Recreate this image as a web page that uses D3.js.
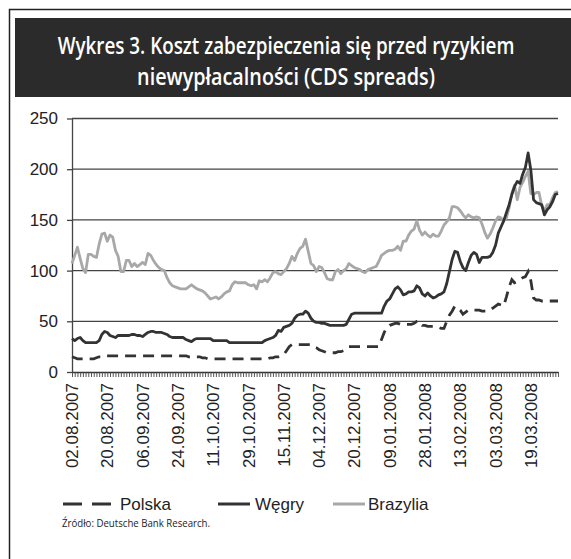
<!DOCTYPE html>
<html><head><meta charset="utf-8">
<script src="https://cdn.jsdelivr.net/npm/d3@7"></script>
<style>body{margin:0;background:#fff}svg{display:block}</style>
</head><body><div id="chart"></div>
<script>
const titleLines = ["Wykres 3. Koszt zabezpieczenia się przed ryzykiem", "niewypłacalności (CDS spreads)"];
const tickLabels = ["02.08.2007","20.08.2007","06.09.2007","24.09.2007","11.10.2007","29.10.2007","15.11.2007","04.12.2007","20.12.2007","09.01.2008","28.01.2008","13.02.2008","03.03.2008","19.03.2008"];
const labelStep = 13;
const yTicks = [0, 50, 100, 150, 200, 250];
const seriesNames = ["Polska", "Węgry", "Brazylia"];
const polska = [
15,14,13,13,13,13,13,13,13,14,
15,15,16,16,16,16,16,16,16,16,
16,16,16,16,16,16,16,16,16,16,
16,16,16,16,16,16,16,16,16,16,
16,16,16,15,15,15,15,15,14,14,
13,13,13,13,13,13,13,13,13,13,
13,13,13,13,13,13,13,13,13,13,
13,13,13,14,14,15,15,16,17,21,
25,27,27,27,27,27,27,27,27,25,
24,22,21,20,19,19,19,19,20,20,
21,23,25,25,25,25,25,25,25,25,
25,25,25,25,32,39,44,46,47,48,
48,47,47,47,47,47,48,50,50,46,
46,45,45,45,44,44,43,43,50,56,
60,65,63,61,57,59,61,61,61,61,
61,60,60,60,61,63,65,67,66,65,
74,84,91,88,89,91,93,94,99,90,
73,71,71,70,70,70,70,70,70,70];
const wegry = [
33,31,33,34,31,29,29,29,29,29,
31,37,40,39,36,35,34,36,36,36,
36,36,37,37,36,36,35,37,39,40,
40,39,39,39,38,37,35,34,34,34,
34,34,32,31,30,32,33,33,33,33,
33,33,31,31,31,31,31,31,29,29,
29,29,29,29,29,29,29,29,29,29,
29,31,32,33,34,36,41,40,44,45,
46,48,53,56,57,57,60,58,53,50,
49,49,48,48,47,46,46,46,46,46,
46,47,52,57,58,58,58,58,58,58,
58,58,58,58,58,65,70,72,77,82,
84,81,76,77,79,79,80,85,83,77,
75,78,75,73,74,76,77,79,87,99,
111,119,118,109,103,100,108,115,118,116,
108,113,113,113,114,118,125,137,143,149,
157,165,175,183,188,186,195,202,216,199,
170,167,166,165,155,160,163,168,175,176];
const brazylia = [
107,115,123,112,102,98,116,116,114,113,
126,136,137,129,135,133,120,114,99,99,
110,110,104,107,104,106,108,106,117,115,
110,106,103,101,100,93,88,85,84,83,
82,82,82,84,86,84,82,81,80,78,
75,72,73,74,72,74,77,79,80,86,
89,88,88,88,88,86,85,86,82,90,
89,91,89,93,98,99,97,96,99,102,
107,114,110,117,122,124,131,119,107,105,
99,104,103,98,92,91,91,99,101,97,
100,102,107,105,103,102,101,99,98,101,
102,103,104,109,115,117,119,120,120,121,
124,120,129,129,135,139,141,149,140,135,
138,135,133,136,134,134,139,145,148,152,
163,163,162,159,155,152,155,153,152,153,
152,146,138,132,136,142,149,153,152,149,
152,162,176,184,170,182,187,193,198,176,
175,177,177,164,159,165,165,172,177,178];

const W = 571, H = 559;
const svg = d3.select("#chart").append("svg").attr("width", W).attr("height", H)
  .style("font-family", "'Liberation Sans', Arial, sans-serif");
svg.append("rect").attr("width", W).attr("height", H).attr("fill", "#fff");

// frame
svg.append("path").attr("d", `M9.5,${H} V9.5 H${W}`).attr("fill", "none").attr("stroke", "#222").attr("stroke-width", 1.5);
// title bar
svg.append("rect").attr("x", 15).attr("y", 18).attr("width", W - 15).attr("height", 79).attr("fill", "#2b2b2b");
const titleBase = [54, 85], titleLen = [457, 298];
titleLines.forEach((t, k) => {
  const g = svg.append("g").attr("transform", `translate(286,${titleBase[k]})`);
  const txt = g.append("text").attr("x", 0).attr("y", 0).attr("text-anchor", "middle")
    .attr("fill", "#fff").attr("font-family", "'Open Sans', sans-serif").attr("font-weight", 600)
    .attr("font-size", 24).text(t);
  const w = txt.node().getComputedTextLength();
  txt.attr("transform", `scale(${titleLen[k] / w},1)`);
});

const n = brazylia.length;
const x = d3.scaleLinear().domain([0, n - 1]).range([72, 558]);
const y = d3.scaleLinear().domain([0, 250]).range([372, 118.5]);

// gridlines
svg.append("g").selectAll("line").data(yTicks.slice(1)).join("line")
  .attr("x1", 72).attr("x2", 558).attr("y1", d => y(d)).attr("y2", d => y(d))
  .attr("stroke", "#444").attr("stroke-width", 1.3);

// y axis
const yAxis = svg.append("g").attr("transform", "translate(72,0)")
  .call(d3.axisLeft(y).tickValues(yTicks).tickSize(5).tickSizeOuter(0).tickPadding(9));
yAxis.select(".domain").attr("stroke", "#444").attr("stroke-width", 1.3);
yAxis.selectAll(".tick line").attr("stroke", "#444").attr("stroke-width", 1.3);
yAxis.selectAll("text").attr("font-size", 17).attr("fill", "#222")
  .attr("font-family", "'Liberation Sans', Arial, sans-serif");

// x axis with a tick per data point
const xAxis = svg.append("g").attr("transform", "translate(0,372)")
  .call(d3.axisBottom(x).tickValues(d3.range(n)).tickSize(5).tickSizeOuter(0).tickFormat(""));
xAxis.select(".domain").attr("stroke", "#333").attr("stroke-width", 1.3);
xAxis.selectAll(".tick line").attr("stroke", "#444").attr("stroke-width", 0.9);

svg.append("g").selectAll("text").data(tickLabels).join("text")
  .attr("transform", (d, i) => `translate(${x(i * labelStep)},383) rotate(-90)`)
  .attr("text-anchor", "end").attr("dy", "0.36em").attr("font-size", 17).attr("fill", "#222")
  .text(d => d);

// lines
const line = d3.line().x((d, i) => x(i)).y(d => y(d)).curve(d3.curveLinear);
svg.append("path").datum(brazylia).attr("d", line).attr("fill", "none")
  .attr("stroke", "#a8a8a8").attr("stroke-width", 2.8).attr("stroke-linejoin", "round");
svg.append("path").datum(wegry).attr("d", line).attr("fill", "none")
  .attr("stroke", "#333").attr("stroke-width", 2.8).attr("stroke-linejoin", "round");
svg.append("path").datum(polska).attr("d", line).attr("fill", "none")
  .attr("stroke", "#333").attr("stroke-width", 2.8).attr("stroke-dasharray", "11,7");

// legend
const legY = 504;
const legend = [
  {name: seriesNames[0], x1: 63, x2: 111, tx: 120, color: "#333", dash: "19,10"},
  {name: seriesNames[1], x1: 218, x2: 250, tx: 255, color: "#333", dash: null},
  {name: seriesNames[2], x1: 333, x2: 365, tx: 368, color: "#a8a8a8", dash: null}
];
legend.forEach(l => {
  svg.append("line").attr("x1", l.x1).attr("x2", l.x2).attr("y1", legY).attr("y2", legY)
    .attr("stroke", l.color).attr("stroke-width", 3).attr("stroke-dasharray", l.dash);
  svg.append("text").attr("x", l.tx).attr("y", legY + 6).attr("font-size", 17).attr("fill", "#222").text(l.name);
});

svg.append("text").attr("x", 62).attr("y", 527).attr("font-family", "'Open Sans', sans-serif")
  .attr("font-size", 11).attr("fill", "#222").attr("textLength", 148).attr("lengthAdjust", "spacingAndGlyphs")
  .text("Źródło: Deutsche Bank Research.");
</script></body></html>
